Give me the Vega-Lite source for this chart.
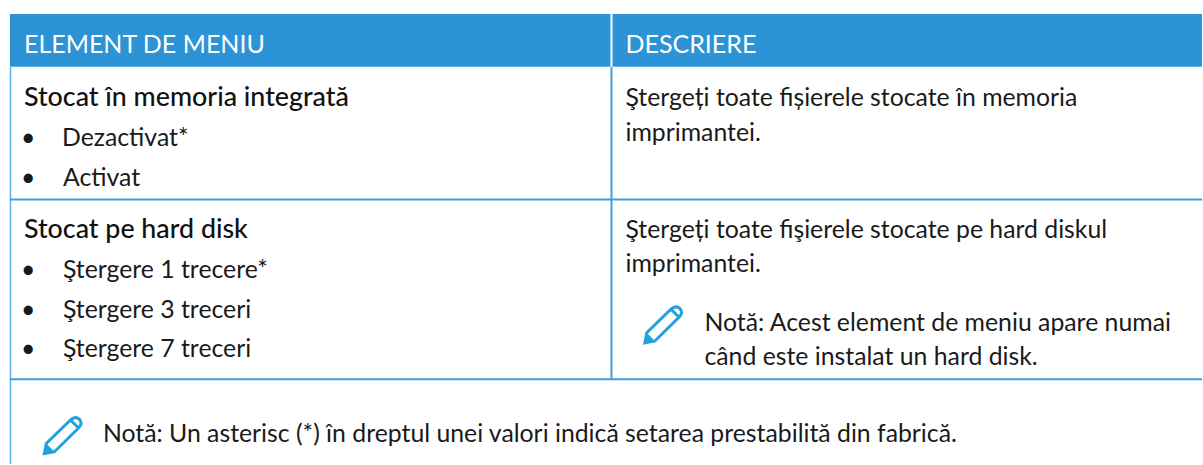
{"$schema":"https://vega.github.io/schema/vega-lite/v6.json","width":1203,"height":465,"autosize":{"type":"fit","contains":"padding"},"padding":0,"background":"#ffffff","view":{"stroke":null},
"datasets":{
"cells":[{"name":"ELEMENT DE MENIU","x":10,"x2":611,"y":14,"y2":67},{"name":"DESCRIERE","x":613,"x2":1203,"y":14,"y2":67}],
"rules":[{"id":"left","x":10.5,"x2":10.5,"y":67,"y2":465},{"id":"col","x":612,"x2":612,"y":67,"y2":380},{"id":"row1","x":10,"x2":1203,"y":200,"y2":200},{"id":"row2","x":10,"x2":1203,"y":380,"y2":380}],
"icons":[{"id":"cell","x":663.5,"y":325.5},{"id":"table","x":62.5,"y":436.5}],
"texts":[
{"role":"header","t":"ELEMENT DE MENIU","x":24,"y":53},
{"role":"header","t":"DESCRIERE","x":626,"y":53},
{"role":"strong","t":"Stocat în memoria integrată","x":24,"y":106},
{"role":"body","t":"•","x":21,"y":146},
{"role":"body","t":"Dezactivat*","x":62,"y":146},
{"role":"body","t":"•","x":21,"y":186},
{"role":"body","t":"Activat","x":63,"y":186},
{"role":"strong","t":"Stocat pe hard disk","x":24,"y":239},
{"role":"body","t":"•","x":21,"y":279},
{"role":"body","t":"Ştergere 1 trecere*","x":63,"y":279},
{"role":"body","t":"•","x":21,"y":319},
{"role":"body","t":"Ştergere 3 treceri","x":63,"y":319},
{"role":"body","t":"•","x":21,"y":358},
{"role":"body","t":"Ştergere 7 treceri","x":63,"y":358},
{"role":"body","t":"Ştergeți toate fișierele stocate în memoria","x":626,"y":106},
{"role":"body","t":"imprimantei.","x":626,"y":141},
{"role":"body","t":"Ştergeți toate fişierele stocate pe hard diskul","x":626,"y":239},
{"role":"body","t":"imprimantei.","x":626,"y":273},
{"role":"body","t":"Notă: Acest element de meniu apare numai","x":705,"y":332},
{"role":"body","t":"când este instalat un hard disk.","x":705,"y":366},
{"role":"body","t":"Notă: Un asterisc (*) în dreptul unei valori indică setarea prestabilită din fabrică.","x":103,"y":443}
]},
"data":{"name":"texts"},
"encoding":{"x":{"field":"x","type":"quantitative","scale":{"domain":[0,1203],"nice":false,"zero":false},"axis":null},"y":{"field":"y","type":"quantitative","scale":{"domain":[465,0],"nice":false,"zero":false},"axis":null}},
"layer":[
{"data":{"name":"cells"},"mark":{"type":"rect","color":"#2B93D6"},"encoding":{"x2":{"field":"x2"},"y2":{"field":"y2"}}},
{"data":{"name":"rules"},"transform":[{"filter":"datum.id==='left'"}],"mark":{"type":"rule","color":"#5AB0E8","strokeWidth":1.5},"encoding":{"x2":{"field":"x2"},"y2":{"field":"y2"}}},
{"data":{"name":"rules"},"transform":[{"filter":"datum.id!=='left'"}],"mark":{"type":"rule","color":"#3F9FDC","strokeWidth":2},"encoding":{"x2":{"field":"x2"},"y2":{"field":"y2"}}},
{"data":{"name":"icons"},"mark":{"type":"point","filled":false,"size":1444,"opacity":1,"stroke":"#1FA3E0","strokeWidth":3,"shape":"M-0.95 0.95 L-0.85 0.42 L0.42 -0.82 Q0.68 -1.05 0.9 -0.85 Q1.08 -0.62 0.85 -0.4 L-0.42 0.85 Z M0.42 -0.82 L0.85 -0.4"}},
{"data":{"name":"icons"},"mark":{"type":"point","filled":true,"size":1444,"opacity":1,"color":"#1FA3E0","shape":"M-1 1 L-0.85 0.42 L-0.42 0.85 Z"}},
{"transform":[{"filter":"datum.role==='header'"}],"mark":{"type":"text","align":"left","baseline":"alphabetic","font":"Lato","fontSize":25,"color":"#ffffff"},"encoding":{"text":{"field":"t"}}},
{"transform":[{"filter":"datum.role==='strong'"}],"mark":{"type":"text","align":"left","baseline":"alphabetic","font":"Lato","fontSize":26.8,"fontWeight":500,"color":"#111111"},"encoding":{"text":{"field":"t"}}},
{"transform":[{"filter":"datum.role==='body'"}],"mark":{"type":"text","align":"left","baseline":"alphabetic","font":"Lato","fontSize":24.8,"color":"#1a1a1a"},"encoding":{"text":{"field":"t"}}}
]}
